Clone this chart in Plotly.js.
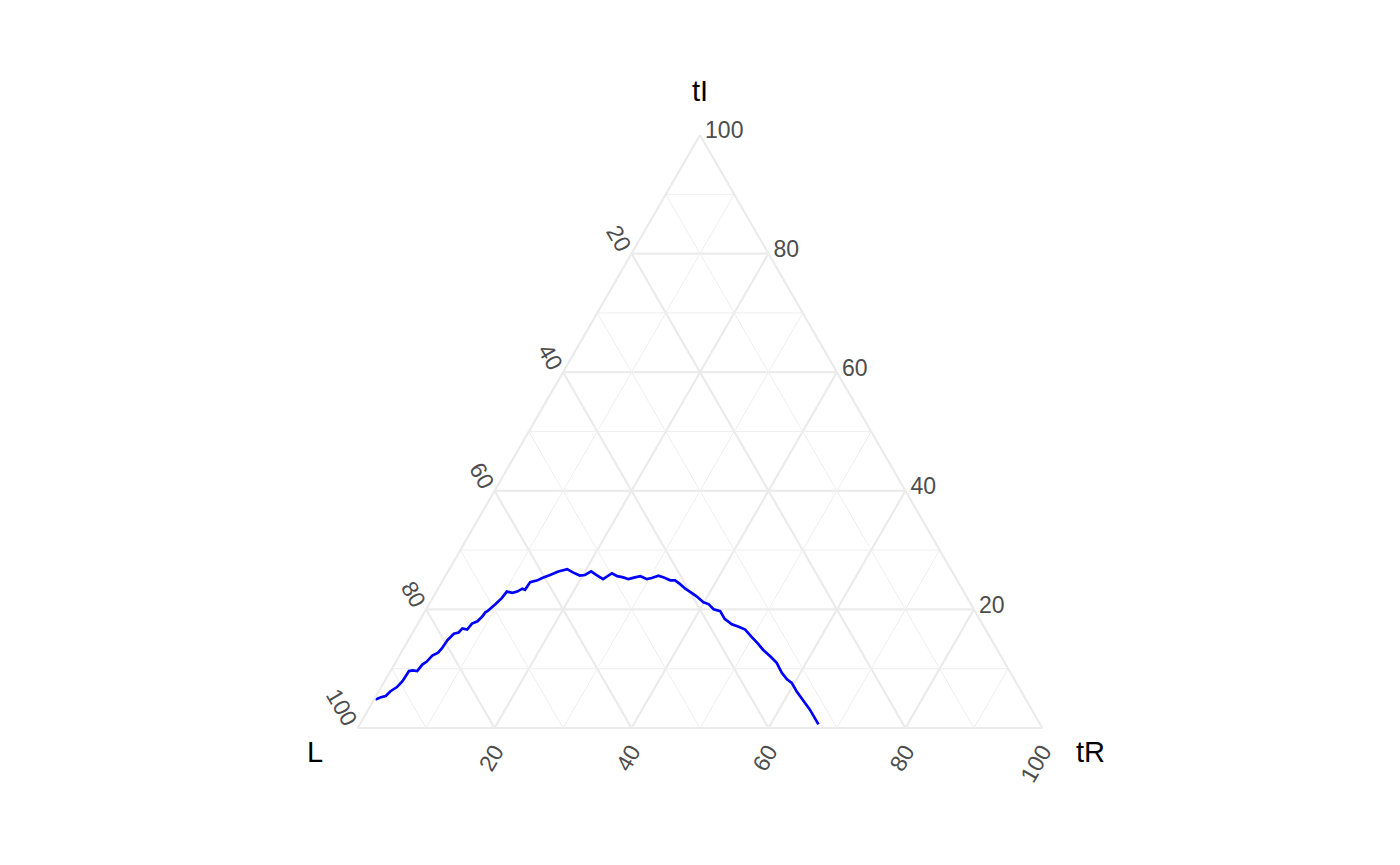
<!DOCTYPE html>
<html>
<head>
<meta charset="utf-8">
<script src="https://cdn.plot.ly/plotly-3.0.1.min.js"></script>
<style>html,body{margin:0;padding:0;background:#fff;}#chart{width:1400px;height:865px;}</style>
</head>
<body>
<div id="chart"></div>
<script>
// Curve values (percent)
const tI = [4.8,5.2,5.4,6.2,6.9,7.9,9.6,9.7,9.6,10.7,11.2,12.2,12.7,13.5,14.8,15.9,16.1,16.8,16.6,17.6,18.0,18.8,19.5,
  19.7,20.9,21.9,23.0,22.8,23.0,23.5,23.3,24.6,24.9,25.3,25.8,26.4,26.8,26.2,25.7,25.8,26.4,
  25.8,25.1,26.1,25.6,25.4,25.1,25.4,25.6,25.1,25.3,25.7,25.4,24.9,24.9,24.3,23.5,23.0,
  22.2,21.2,20.9,20.0,19.7,18.4,17.5,17.1,16.6,15.4,14.2,13.2,12.1,11.0,9.3,8.2,7.6,6.2,4.6,3.1,0.6];
const tR = [0.2,0.8,1.4,1.7,2.3,2.6,2.7,3.2,3.9,4.1,4.5,4.8,5.4,5.6,5.7,6.1,6.7,6.9,7.7,7.9,8.5,8.8,8.9,
  9.1,9.7,10.1,10.3,11.2,11.8,12.3,12.8,12.9,13.8,14.3,15.2,16.1,17.2,18.4,19.6,20.3,20.9,
  22.0,23.3,24.1,25.1,26.1,27.0,27.8,28.5,29.7,30.3,31.1,32.0,33.2,33.9,34.9,36.1,37.0,
  38.4,39.9,40.8,42.0,43.1,44.4,45.9,47.0,48.3,49.8,51.4,52.6,54.2,55.7,57.3,58.6,59.6,61.0,62.8,64.5,67.0];
const L = [95.0,94.0,93.2,92.1,90.8,89.5,87.7,87.1,86.5,85.2,84.3,83.0,81.9,80.9,79.5,78.0,77.2,76.3,75.7,74.5,73.5,72.4,71.6,
  71.2,69.4,68.0,66.7,66.0,65.2,64.2,63.9,62.5,61.3,60.4,59.0,57.5,56.0,55.4,54.7,53.9,52.7,
  52.2,51.6,49.8,49.3,48.5,47.9,46.8,45.9,45.2,44.4,43.2,42.6,41.9,41.2,40.8,40.4,40.0,
  39.4,38.9,38.3,38.0,37.2,37.2,36.6,35.9,35.1,34.8,34.4,34.2,33.7,33.3,33.4,33.2,32.8,32.8,32.6,32.4,32.4];

// Tick positions and labels
const majorTicks = [0, 20, 40, 60, 80];
const majorLabels = ['100', '80', '60', '40', '20'];
const minorGrid = [10, 30, 50, 70, 90];
const axisTitles = ['tI', 'L', 'tR'];

const FONT = 'Liberation Sans, Arial, Helvetica, sans-serif';
const GRID = '#ebebeb';

// Minor grid lines as thin line traces
function minorTrace() {
  const a = [], b = [], c = [];
  minorGrid.forEach(v => {
    a.push(v, v, null); b.push(100 - v, 0, null); c.push(0, 100 - v, null);
    a.push(100 - v, 0, null); b.push(v, v, null); c.push(0, 100 - v, null);
    a.push(100 - v, 0, null); b.push(0, 100 - v, null); c.push(v, v, null);
  });
  return {type: 'scatterternary', mode: 'lines', a: a, b: b, c: c,
    line: {color: '#eeeeee', width: 1}, hoverinfo: 'skip', connectgaps: false, showlegend: false};
}

const curve = {type: 'scatterternary', mode: 'lines', a: tI, b: L, c: tR,
  line: {color: '#0000ff', width: 2.7}, showlegend: false};

function axis(angle, len) {
  return {
    title: {text: ''},
    min: 0,
    tickmode: 'array', tickvals: majorTicks, ticktext: majorLabels,
    tickangle: angle,
    tickfont: {family: FONT, size: 23, color: '#4d4d4d'},
    ticks: len ? 'outside' : '', ticklen: len || 0, tickcolor: 'rgba(0,0,0,0)',
    showgrid: true, gridcolor: GRID, gridwidth: 2.2,
    showline: true, linecolor: GRID, linewidth: 2.2
  };
}

const titleFont = {family: FONT, size: 29, color: '#000'};
const layout = {
  width: 1400, height: 865,
  margin: {l: 0, r: 0, t: 135, b: 137},
  paper_bgcolor: '#fff',
  showlegend: false,
  ternary: {
    sum: 100,
    bgcolor: '#fff',
    aaxis: axis(60, 0),
    baxis: axis(-60, 0),
    caxis: axis(0, 2)
  },
  annotations: [
    {text: axisTitles[0], xref: 'paper', yref: 'paper', x: 0.5, y: 1 + 44 / 593, xanchor: 'center', yanchor: 'middle', showarrow: false, font: titleFont},
    {text: axisTitles[1], xref: 'paper', yref: 'paper', x: 315 / 1400, y: -24 / 593, xanchor: 'center', yanchor: 'middle', showarrow: false, font: titleFont},
    {text: axisTitles[2], xref: 'paper', yref: 'paper', x: 1090 / 1400, y: -24 / 593, xanchor: 'center', yanchor: 'middle', showarrow: false, font: titleFont}
  ]
};

Plotly.newPlot('chart', [minorTrace(), curve], layout, {displayModeBar: false, staticPlot: true});
</script>
</body>
</html>
